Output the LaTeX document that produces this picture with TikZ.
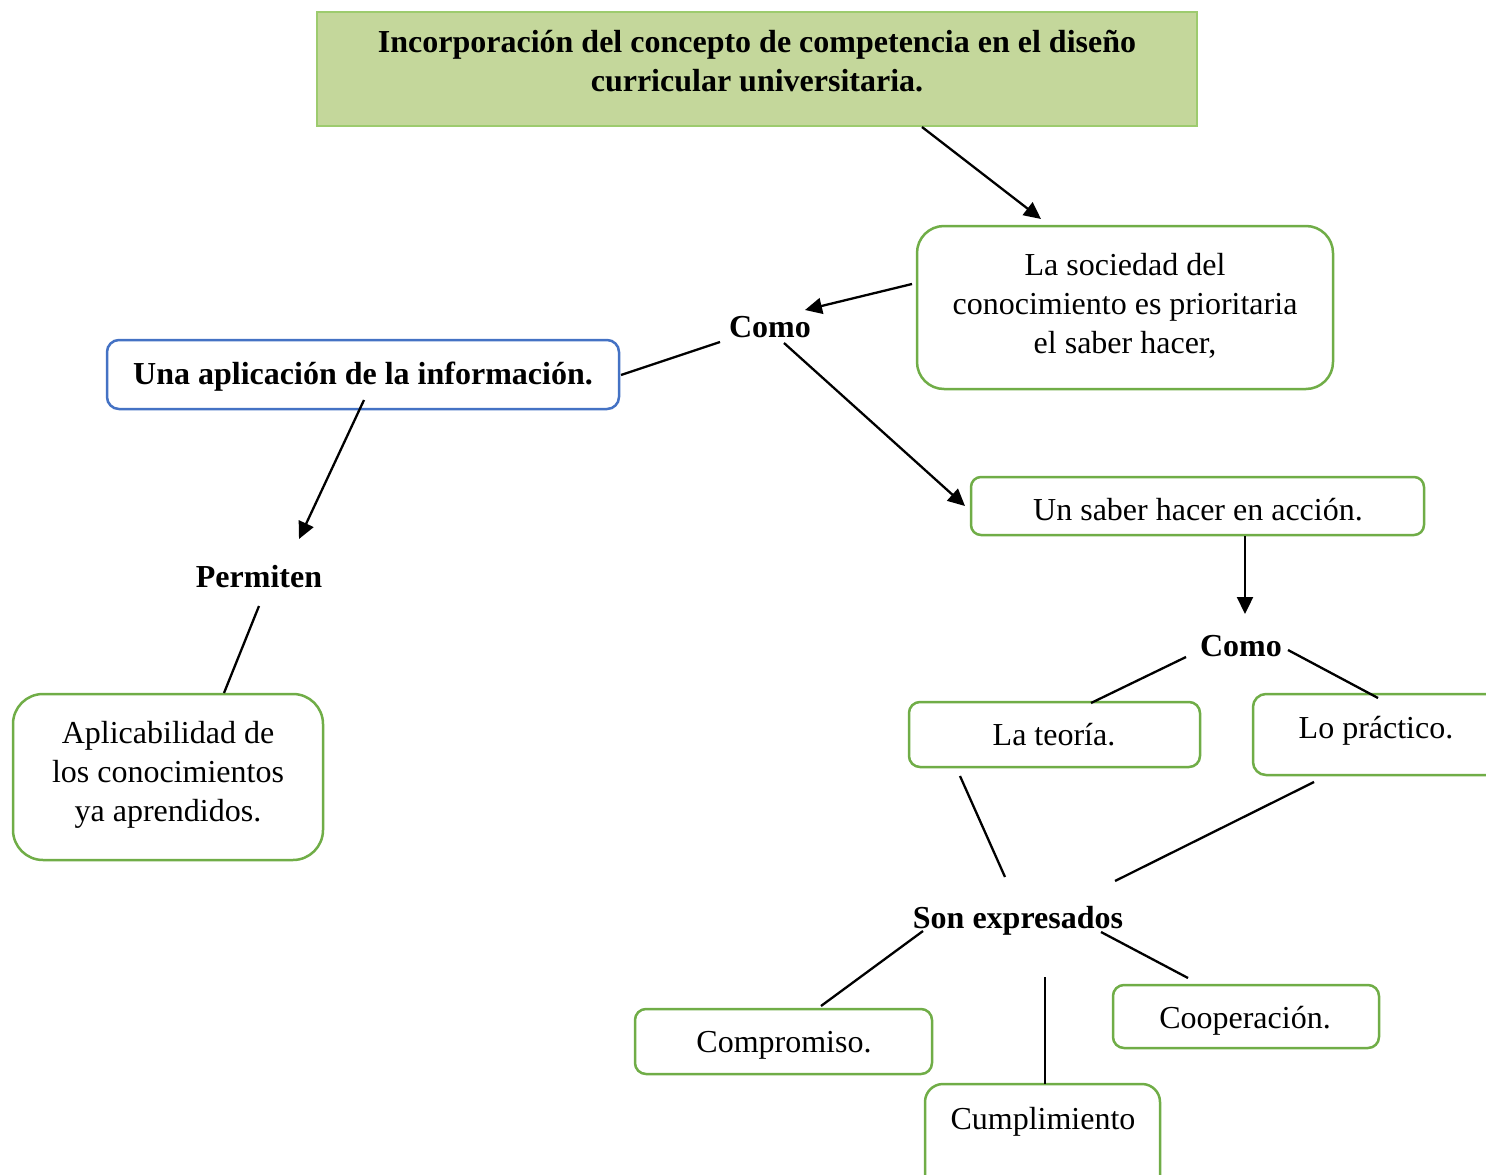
\documentclass[tikz,border=0pt]{standalone}
\usepackage{fontspec}
\setmainfont{Liberation Serif}
\usetikzlibrary{arrows.meta}
\definecolor{titlefill}{HTML}{C4D79B}
\definecolor{titledraw}{HTML}{9DCB6E}
\definecolor{boxgreen}{HTML}{70AD47}
\definecolor{boxblue}{HTML}{4472C4}
\begin{document}
\begin{tikzpicture}[x=1pt,y=-1pt,
  every node/.style={font=\fontsize{32}{39}\selectfont},
  txt/.style={inner sep=0pt, align=center},
  boldtxt/.style={inner sep=0pt, align=center, font=\fontsize{32}{39}\selectfont\bfseries},
  gbox/.style={draw=boxgreen, line width=2.5pt, fill=white, inner sep=0pt},
  conn/.style={line width=2.3pt, draw=black},
  arr/.style={conn, -{Triangle[length=17pt,width=16pt]}}
]
\useasboundingbox (0,0) rectangle (1486,1175);

% boxes
\node[draw=titledraw, fill=titlefill, line width=1.5pt, inner sep=0pt,
      minimum width=880pt, minimum height=114pt] (title) at (757,69) {};
\node[boldtxt] (titletext) at (757,61) {Incorporación del concepto de competencia en el diseño\\curricular universitaria.};

\node[gbox, rounded corners=27pt, minimum width=416pt, minimum height=163pt] (sociedad) at (1125,307.5) {};
\node[txt] (sociedadtext) at (1125,305.5) {La sociedad del\\conocimiento es prioritaria\\el saber hacer,};

\node[draw=boxblue, line width=2.5pt, fill=white, rounded corners=12pt, inner sep=0pt,
      minimum width=512pt, minimum height=69pt] (aplicacion) at (363,374.5) {};
\node[boldtxt, anchor=base] (aplicaciontext) at (363,384) {Una aplicación de la información.};

\node[gbox, rounded corners=30pt, minimum width=310pt, minimum height=166pt] (aplicabilidad) at (168,777) {};
\node[txt] (aplicabilidadtext) at (168,774.5) {Aplicabilidad de\\los conocimientos\\ya aprendidos.};

\node[gbox, rounded corners=10pt, minimum width=453pt, minimum height=58pt] (saber) at (1197.5,506) {};
\node[txt, anchor=base] (sabertext) at (1198,520) {Un saber hacer en acción.};

\node[gbox, rounded corners=11pt, minimum width=291pt, minimum height=65pt] (teoria) at (1054.5,734.5) {};
\node[txt, anchor=base] (teoriatext) at (1054,745) {La teoría.};

\node[gbox, rounded corners=13pt, minimum width=247pt, minimum height=81pt] (practico) at (1376.5,734.5) {};
\node[txt, anchor=base] (practicotext) at (1376,738) {Lo práctico.};

\node[gbox, rounded corners=11pt, minimum width=297pt, minimum height=65pt] (compromiso) at (783.5,1041.5) {};
\node[txt, anchor=base] (compromisotext) at (784,1052) {Compromiso.};

\node[gbox, rounded corners=18pt, minimum width=235pt, minimum height=110pt] (cumplimiento) at (1042.5,1139) {};
\node[txt, anchor=base] (cumplimientotext) at (1043,1129) {Cumplimiento};

\node[gbox, rounded corners=11pt, minimum width=266pt, minimum height=63pt] (cooperacion) at (1246,1016.5) {};
\node[txt, anchor=base] (cooperaciontext) at (1245,1028) {Cooperación.};

% bold link words
\node[boldtxt, anchor=base] (como1) at (770,337) {Como};
\node[boldtxt, anchor=base] (permiten) at (259,587) {Permiten};
\node[boldtxt, anchor=base] (como2) at (1241,656) {Como};
\node[boldtxt, anchor=base] (sonexp) at (1018,928) {Son expresados};

% connector end points
\coordinate (t1) at (922,127);   \coordinate (t2) at (1041,219);
\coordinate (s1) at (912,284);   \coordinate (s2) at (805,310);
\coordinate (ca1) at (720,342);  \coordinate (ca2) at (621,375);
\coordinate (cs1) at (784,343);  \coordinate (cs2) at (965,506);
\coordinate (ap1) at (364,400);  \coordinate (ap2) at (299,539);
\coordinate (pa1) at (259,606);  \coordinate (pa2) at (224,693);
\coordinate (sc1) at (1245,536); \coordinate (sc2) at (1245,614);
\coordinate (ct1) at (1186,657); \coordinate (ct2) at (1091,703);
\coordinate (cp1) at (1288,650); \coordinate (cp2) at (1378,698);
\coordinate (te1) at (960,776);  \coordinate (te2) at (1005,877);
\coordinate (pe1) at (1314,782); \coordinate (pe2) at (1115,881);
\coordinate (ec1) at (923,931);  \coordinate (ec2) at (821,1006);
\coordinate (eu1) at (1045,977); \coordinate (eu2) at (1045,1084);
\coordinate (eo1) at (1101,932); \coordinate (eo2) at (1188,978);

% connectors
\draw[arr] (t1) -- (t2);
\draw[arr] (s1) -- (s2);
\draw[conn] (ca1) -- (ca2);
\draw[arr] (cs1) -- (cs2);
\draw[arr] (ap1) -- (ap2);
\draw[conn] (pa1) -- (pa2);
\draw[arr] (sc1) -- (sc2);
\draw[conn] (ct1) -- (ct2);
\draw[conn] (cp1) -- (cp2);
\draw[conn] (te1) -- (te2);
\draw[conn] (pe1) -- (pe2);
\draw[conn] (ec1) -- (ec2);
\draw[conn] (eu1) -- (eu2);
\draw[conn] (eo1) -- (eo2);
\end{tikzpicture}
\end{document}
